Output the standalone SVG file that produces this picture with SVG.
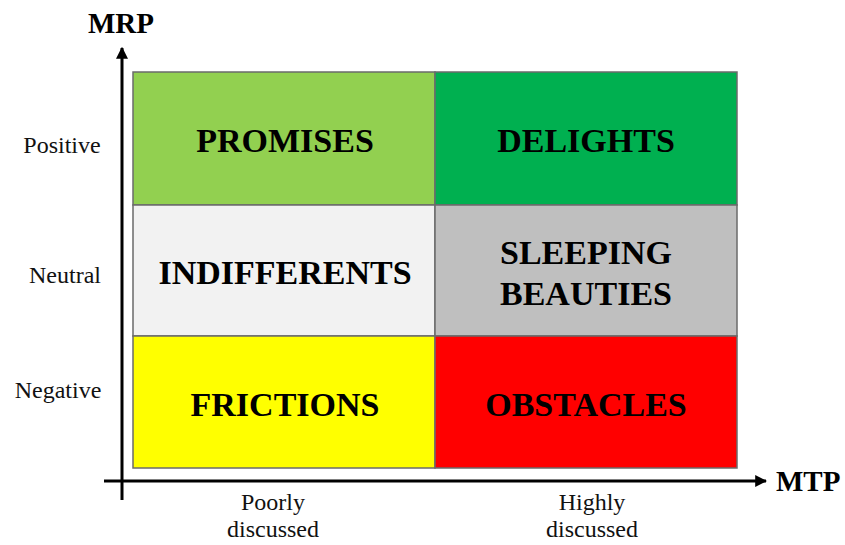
<svg xmlns="http://www.w3.org/2000/svg" width="845" height="545" viewBox="0 0 845 545">
<style>
.cell{stroke:#6b6b6b;stroke-width:1.5}
.ct{font-family:"Liberation Serif",serif;font-weight:bold;font-size:34px;fill:#000;text-anchor:middle}
.ax{font-family:"Liberation Serif",serif;font-weight:bold;font-size:29px;fill:#000}
.lb{font-family:"Liberation Serif",serif;font-size:24px;fill:#111;text-anchor:middle}
.axis{stroke:#000;stroke-width:3;fill:none}
</style>
<defs>
<marker id="ah" viewBox="0 0 10 10" refX="9" refY="5" markerWidth="4" markerHeight="4" orient="auto" markerUnits="strokeWidth">
<path d="M0,0 L10,5 L0,10 Z" fill="#000"/>
</marker>
</defs>
<rect width="845" height="545" fill="#fff"/>
<g id="promises"><rect class="cell" x="133" y="72" width="302" height="133" fill="#92D050"/><text class="ct" x="285" y="152">PROMISES</text></g>
<g id="delights"><rect class="cell" x="435" y="72" width="302" height="133" fill="#00B050"/><text class="ct" x="586" y="152">DELIGHTS</text></g>
<g id="indifferents"><rect class="cell" x="133" y="205" width="302" height="131" fill="#F2F2F2"/><text class="ct" x="285" y="284">INDIFFERENTS</text></g>
<g id="sleeping"><rect class="cell" x="435" y="205" width="302" height="131" fill="#BFBFBF"/><text class="ct" x="586" y="264">SLEEPING</text><text class="ct" x="586" y="305">BEAUTIES</text></g>
<g id="frictions"><rect class="cell" x="133" y="336" width="302" height="132" fill="#FFFF00"/><text class="ct" x="285" y="416">FRICTIONS</text></g>
<g id="obstacles"><rect class="cell" x="435" y="336" width="302" height="132" fill="#FF0000"/><text class="ct" x="586" y="416">OBSTACLES</text></g>
<g id="axes">
<line class="axis" x1="122" y1="500" x2="122" y2="48" marker-end="url(#ah)"/>
<line class="axis" x1="104" y1="481" x2="766" y2="481" marker-end="url(#ah)"/>
</g>
<g id="labels">
<text class="ax" x="121" y="33" text-anchor="middle">MRP</text>
<text class="ax" x="776" y="491">MTP</text>
<text class="lb" x="62" y="153">Positive</text>
<text class="lb" x="65" y="283">Neutral</text>
<text class="lb" x="58" y="398">Negative</text>
<text class="lb" x="273" y="510">Poorly</text>
<text class="lb" x="273" y="537">discussed</text>
<text class="lb" x="592" y="510">Highly</text>
<text class="lb" x="592" y="537">discussed</text>
</g>
</svg>
